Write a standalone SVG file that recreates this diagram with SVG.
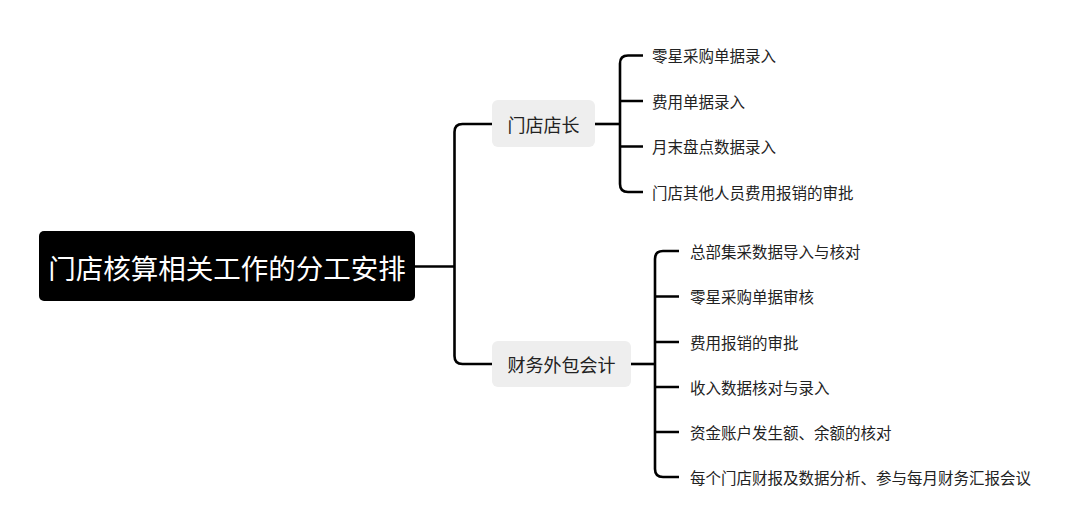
<svg xmlns="http://www.w3.org/2000/svg" width="1080" height="532" viewBox="0 0 1080 532">
<style>
.ln{fill:none;stroke:#000;stroke-width:2.6;stroke-linejoin:round;stroke-linecap:butt}
.t{font-family:"Noto Sans CJK SC","Noto Sans",sans-serif;dominant-baseline:central;fill:#222}
.leaf{font-size:15.5px}
.sub{font-size:18px;text-anchor:middle}
.box{fill:#eeeeee}
</style>
<rect width="1080" height="532" fill="#fff"/>
<g id="connectors">
<path class="ln" d="M415,266.5 H454.5"/>
<path class="ln" d="M492,124 H462.5 Q454.5,124 454.5,132 V356 Q454.5,364 462.5,364 H492"/>
<path class="ln" d="M595,124 H620"/>
<path class="ln" d="M643,55.5 H628 Q620,55.5 620,63.5 V184 Q620,192 628,192 H643"/>
<path class="ln" d="M620,101 H643 M620,146.5 H643"/>
<path class="ln" d="M631,364 H655"/>
<path class="ln" d="M679,251 H663 Q655,251 655,259 V469 Q655,477 663,477 H679"/>
<path class="ln" d="M655,296.5 H679 M655,342 H679 M655,387 H679 M655,432 H679"/>
</g>
<g id="root">
<rect x="39" y="231" width="376" height="70" rx="5" fill="#000"/>
<text class="t" x="227" y="266.5" font-size="27.5" text-anchor="middle" fill="#fff" style="fill:#fff">门店核算相关工作的分工安排</text>
</g>
<g id="n1">
<rect class="box" x="492" y="100" width="103" height="47" rx="6"/>
<text class="t sub" x="543.5" y="123.5">门店店长</text>
</g>
<g id="n2">
<rect class="box" x="492" y="341" width="139" height="46" rx="6"/>
<text class="t sub" x="561.5" y="363.5">财务外包会计</text>
</g>
<g id="n1-1"><text class="t leaf" x="652" y="55">零星采购单据录入</text></g>
<g id="n1-2"><text class="t leaf" x="652" y="100.5">费用单据录入</text></g>
<g id="n1-3"><text class="t leaf" x="652" y="146">月末盘点数据录入</text></g>
<g id="n1-4"><text class="t leaf" x="652" y="191.5">门店其他人员费用报销的审批</text></g>
<g id="n2-1"><text class="t leaf" x="690" y="250.5">总部集采数据导入与核对</text></g>
<g id="n2-2"><text class="t leaf" x="690" y="296">零星采购单据审核</text></g>
<g id="n2-3"><text class="t leaf" x="690" y="341.5">费用报销的审批</text></g>
<g id="n2-4"><text class="t leaf" x="690" y="386.5">收入数据核对与录入</text></g>
<g id="n2-5"><text class="t leaf" x="690" y="431.5">资金账户发生额、余额的核对</text></g>
<g id="n2-6"><text class="t leaf" x="690" y="476.5">每个门店财报及数据分析、参与每月财务汇报会议</text></g>
</svg>
